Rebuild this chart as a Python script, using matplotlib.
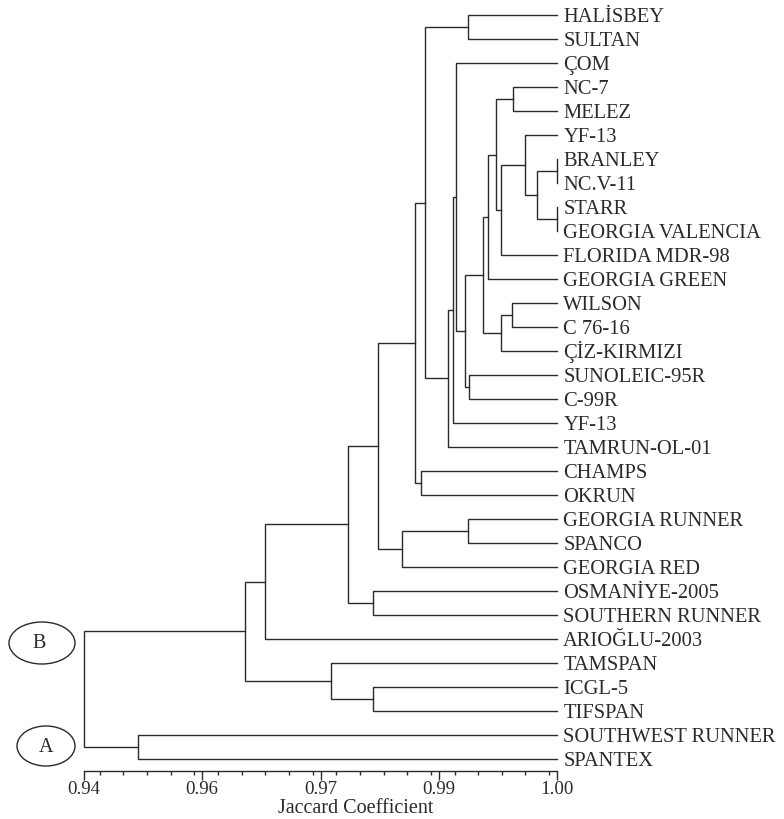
import matplotlib
matplotlib.use('Agg')
import matplotlib.pyplot as plt
from matplotlib.patches import Ellipse
from matplotlib.ticker import FixedLocator, MultipleLocator

plt.rcParams['font.family'] = ['Liberation Serif', 'DejaVu Serif']

ink = '#2a2a2a'

leaves = ['HALİSBEY', 'SULTAN', 'ÇOM', 'NC-7', 'MELEZ', 'YF-13', 'BRANLEY',
          'NC.V-11', 'STARR', 'GEORGIA VALENCIA', 'FLORIDA MDR-98',
          'GEORGIA GREEN', 'WILSON', 'C 76-16', 'ÇİZ-KIRMIZI', 'SUNOLEIC-95R',
          'C-99R', 'YF-13', 'TAMRUN-OL-01', 'CHAMPS', 'OKRUN',
          'GEORGIA RUNNER', 'SPANCO', 'GEORGIA RED', 'OSMANİYE-2005',
          'SOUTHERN RUNNER', 'ARIOĞLU-2003', 'TAMSPAN', 'ICGL-5', 'TIFSPAN',
          'SOUTHWEST RUNNER', 'SPANTEX']

# merges in order: (child a, child b, coefficient)
# ids < 32 are leaves, id 32 + k is the k-th merge
merge_a = [0, 3, 6, 8, 34, 5, 37, 33, 39, 12, 41, 40, 15, 43, 2, 46, 47,
           32, 19, 49, 21, 52, 51, 24, 54, 56, 28, 27, 57, 30, 60]
merge_b = [1, 4, 7, 9, 35, 36, 10, 38, 11, 13, 14, 42, 16, 44, 45, 17, 18,
           48, 20, 50, 22, 23, 53, 25, 55, 26, 29, 58, 59, 31, 61]
merge_h = [0.9887, 0.9944, 1.0000, 1.0000, 0.9975, 0.9959, 0.9929, 0.9923,
           0.9912, 0.9943, 0.9929, 0.9906, 0.9888, 0.9883, 0.9872, 0.9868,
           0.9862, 0.9833, 0.9827, 0.9820, 0.9887, 0.9803, 0.9773, 0.9767,
           0.9735, 0.9630, 0.9767, 0.9713, 0.9604, 0.9468, 0.9400]

tick_pos = [0.94, 0.955, 0.97, 0.985, 1.00]
tick_txt = ['0.94', '0.96', '0.97', '0.99', '1.00']

fig = plt.figure(figsize=(7.84, 8.19), dpi=100)
ax = fig.add_axes([84 / 784, 1 - 771 / 819, (557 - 84) / 784, (771 - 3) / 819])

n = len(leaves)
node_x = {i: 1.0 for i in range(n)}
node_y = {i: float(i) for i in range(n)}
for k, (a, b, h) in enumerate(zip(merge_a, merge_b, merge_h)):
    nid = n + k
    ya, yb = node_y[a], node_y[b]
    ax.plot([node_x[a], h, h, node_x[b]], [ya, ya, yb, yb],
            color=ink, lw=1.0, solid_joinstyle='miter', clip_on=False)
    node_x[nid] = h
    node_y[nid] = (ya + yb) / 2

for i, name in enumerate(leaves):
    ax.annotate(name, (1.0, i), xytext=(4.5, -4.9), textcoords='offset points',
                ha='left', va='baseline', fontsize=14.8, color=ink,
                annotation_clip=False)

ax.set_xlim(0.94, 1.00)
ax.set_ylim(n - 0.5, -0.5)
for s in ['top', 'right', 'left']:
    ax.spines[s].set_visible(False)
ax.spines['bottom'].set_color(ink)
ax.spines['bottom'].set_linewidth(1.0)
ax.set_yticks([])
ax.xaxis.set_major_locator(FixedLocator(tick_pos))
ax.set_xticklabels(tick_txt, fontsize=13.6, color=ink)
ax.xaxis.set_minor_locator(MultipleLocator(0.003))
ax.tick_params(axis='x', which='major', length=6.5, width=1.0, color=ink, pad=1)
ax.tick_params(axis='x', which='minor', length=3.2, width=1.0, color=ink)
ax.patch.set_visible(False)

fig.text(356 / 784, 1 - 813 / 819, 'Jaccard Coefficient',
         ha='center', va='baseline', fontsize=14.5, color=ink)

# group marks
for cx, cy, w, h, lab, tx, ty in [(42, 643, 66, 42, 'B', 39, 643),
                                  (46, 746, 58, 40, 'A', 46, 747)]:
    fig.add_artist(Ellipse((cx / 784, 1 - cy / 819), w / 784, h / 819,
                           transform=fig.transFigure, fill=False,
                           edgecolor=ink, lw=1.0))
    fig.text(tx / 784, 1 - ty / 819, lab, ha='center', va='center',
             fontsize=14.5, color=ink)

fig.savefig('out.png', dpi=100)
